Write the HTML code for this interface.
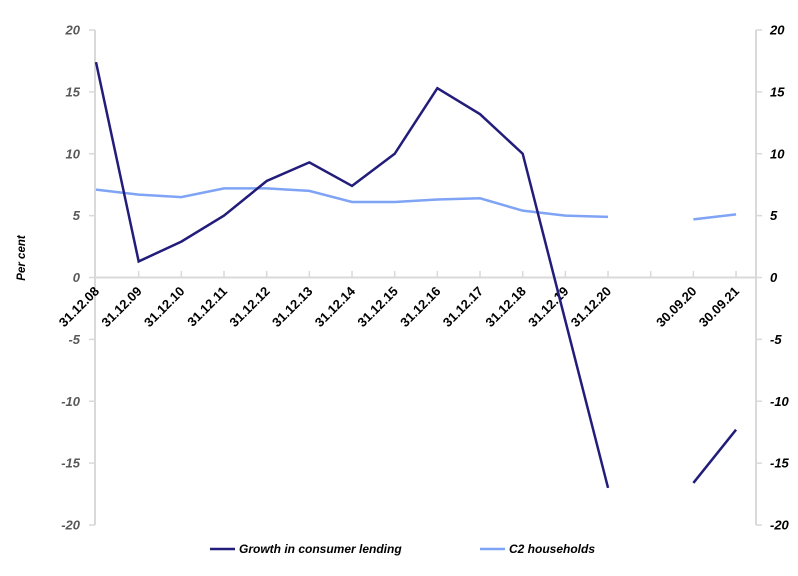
<!DOCTYPE html>
<html><head><meta charset="utf-8"><style>
body{margin:0;background:#fff}
svg text{font-family:"Liberation Sans",sans-serif}
</style></head><body>
<svg width="798" height="571" viewBox="0 0 798 571" xmlns="http://www.w3.org/2000/svg">
<g stroke="#d9d9d9" stroke-width="2">
<line x1="95" y1="30" x2="95" y2="525"/>
<line x1="756" y1="30" x2="756" y2="525"/>
<line x1="95" y1="277.5" x2="756" y2="277.5"/>
</g>
<g id="ticks" stroke="#d9d9d9" stroke-width="1.5"></g>
<g id="yl" font-size="13" font-weight="bold" font-style="italic" fill="#595959"></g>
<g id="yr" font-size="13" font-weight="bold" font-style="italic" fill="#000"></g>
<g id="xl" font-size="13" font-weight="bold" fill="#000"></g>
<text transform="translate(25,258) rotate(-90)" text-anchor="middle" font-size="11.5" font-weight="bold" font-style="italic">Per cent</text>
<polyline id="l2" fill="none" stroke="#7fa3f5" stroke-width="2.5"/>
<polyline id="l2b" fill="none" stroke="#7fa3f5" stroke-width="2.5"/>
<polyline id="l1" fill="none" stroke="#221c7a" stroke-width="2.5"/>
<polyline id="l1b" fill="none" stroke="#221c7a" stroke-width="2.5"/>
<line x1="210" y1="549" x2="235" y2="549" stroke="#221c7a" stroke-width="2.5"/>
<text x="239" y="553" font-size="12" font-weight="bold" font-style="italic">Growth in consumer lending</text>
<line x1="480" y1="549" x2="505" y2="549" stroke="#7fa3f5" stroke-width="2.5"/>
<text x="509" y="553" font-size="12" font-weight="bold" font-style="italic">C2 households</text>
</svg>
<script>
const ns="http://www.w3.org/2000/svg";
const X=i=>96+i*42.67, Y=v=>277.5-v*12.375;
function t(g,x,y,s,a,extra){const e=document.createElementNS(ns,"text");e.setAttribute("x",x);e.setAttribute("y",y);e.setAttribute("text-anchor",a);if(extra)e.setAttribute("transform",extra);e.textContent=s;document.getElementById(g).appendChild(e);}
const tk=document.getElementById("ticks");
for(let v=-20;v<=20;v+=5){t("yl",80,Y(v)+4.5,v,"end");t("yr",770,Y(v)+4.5,v,"start");
 for(const [a,b] of [[89,95],[756,762]]){const l=document.createElementNS(ns,"line");l.setAttribute("x1",a);l.setAttribute("x2",b);l.setAttribute("y1",Y(v));l.setAttribute("y2",Y(v));tk.appendChild(l);}}
const labs=["31.12.08","31.12.09","31.12.10","31.12.11","31.12.12","31.12.13","31.12.14","31.12.15","31.12.16","31.12.17","31.12.18","31.12.19","31.12.20","","30.09.20","30.09.21"];
labs.forEach((s,i)=>{const x=X(i);if(i>0){const l=document.createElementNS(ns,"line");l.setAttribute("x1",x);l.setAttribute("x2",x);l.setAttribute("y1",271);l.setAttribute("y2",277);tk.appendChild(l);}
 if(s)t("xl",x+4,292,s,"end","rotate(-45 "+(x+4)+" 292)");});
const d1=[17.4,1.3,2.9,5.0,7.8,9.3,7.4,10.0,15.3,13.2,10.0,-3.5,-17];
const d2=[7.1,6.7,6.5,7.2,7.2,7.0,6.1,6.1,6.3,6.4,5.4,5.0,4.9];
const pts=(d,o)=>d.map((v,i)=>X(i+o)+","+Y(v)).join(" ");
document.getElementById("l1").setAttribute("points",pts(d1,0));
document.getElementById("l2").setAttribute("points",pts(d2,0));
document.getElementById("l1b").setAttribute("points",pts([-16.6,-12.3],14));
document.getElementById("l2b").setAttribute("points",pts([4.7,5.1],14));
</script>
</body></html>
